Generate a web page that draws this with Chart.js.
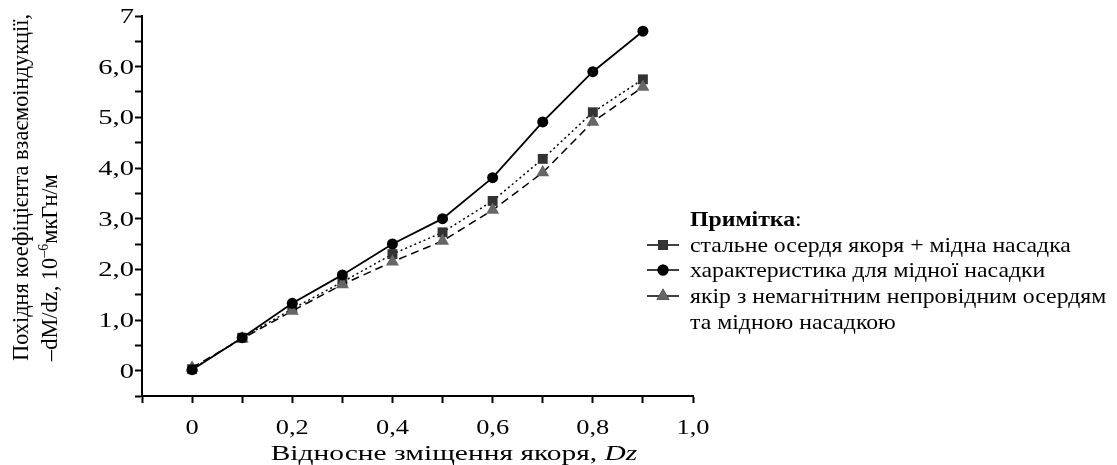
<!DOCTYPE html>
<html>
<head>
<meta charset="utf-8">
<script src="https://cdn.jsdelivr.net/npm/chart.js@4/dist/chart.umd.min.js"></script>
<style>
  body { margin: 0; background: #fff; }
  #wrap { width: 1117px; height: 465px; }
</style>
</head>
<body>
<div id="wrap"><canvas id="dzChart" width="1117" height="465"></canvas></div>
<script>
// ---- data ----
const dz = [0, 0.1, 0.2, 0.3, 0.4, 0.5, 0.6, 0.7, 0.8, 0.9];
const steelCopper = [0.03, 0.65, 1.22, 1.75, 2.30, 2.73, 3.35, 4.18, 5.10, 5.75];
const copperOnly  = [0.02, 0.65, 1.33, 1.89, 2.50, 3.00, 3.81, 4.91, 5.90, 6.70];
const nonMagnetic = [0.06, 0.63, 1.18, 1.70, 2.15, 2.56, 3.17, 3.91, 4.91, 5.60];

// tick values (labels only on the major ones)
const xTicks = [-0.1, 0, 0.1, 0.2, 0.3, 0.4, 0.5, 0.6, 0.7, 0.8, 0.9, 1.0];
const yTicks = [-0.5, 0, 0.5, 1, 1.5, 2, 2.5, 3, 3.5, 4, 4.5, 5, 5.5, 6, 6.5, 7];
const xTickLabels = { '0': '0', '0.2': '0,2', '0.4': '0,4', '0.6': '0,6', '0.8': '0,8', '1': '1,0' };
const yTickLabels = { '0': '0', '1': '1,0', '2': '2,0', '3': '3,0', '4': '4,0', '5': '5,0', '6': '6,0', '7': '7' };

const seriesLabels = [
    'стальне осердя якоря + мідна насадка',
    'характеристика для мідної насадки',
    'якір з немагнітним непровідним осердям'
];
const legendExtraLine = 'та мідною насадкою';
const legendTitle = 'Примітка';
const xTitle = 'Відносне зміщення якоря, ';
const xTitleItalic = 'Dz';
const yTitleLine1 = 'Похідня коефіцієнта взаємоіндукції,';
const yTitleLine2 = ['–dM/dz, 10', '–6', 'мкГн/м'];

const FONT = '"Liberation Serif", "Times New Roman", serif';

function toPoints(values) {
    return dz.map((x, i) => ({ x: x, y: values[i] }));
}

function keyOf(v) {
    return String(Math.round(v * 10) / 10);
}

// draw text squeezed/stretched horizontally, anchored at x
function stretchedText(ctx, text, x, y, sx, align) {
    const w = ctx.measureText(text).width * sx;
    let left = x;
    if (align === 'center') left = x - w / 2;
    if (align === 'right') left = x - w;
    ctx.save();
    ctx.translate(left, y);
    ctx.scale(sx, 1);
    ctx.textAlign = 'left';
    ctx.fillText(text, 0, 0);
    ctx.restore();
    return w;
}

// ============================================
// TICK LABELS, TITLES + LEGEND (drawn on the canvas)
// ============================================
const annotations = {
    id: 'annotations',
    afterDraw(chart) {
        const ctx = chart.ctx;
        const xs = chart.scales.x;
        const ys = chart.scales.y;
        ctx.save();
        ctx.fillStyle = '#000';
        ctx.textBaseline = 'alphabetic';
        ctx.font = '22px ' + FONT;

        // tick labels
        xs.ticks.forEach(t => {
            const lbl = xTickLabels[keyOf(t.value)];
            if (lbl) stretchedText(ctx, lbl, xs.getPixelForValue(t.value), 434, 1.2, 'center');
        });
        ys.ticks.forEach(t => {
            const lbl = yTickLabels[keyOf(t.value)];
            if (lbl) stretchedText(ctx, lbl, 134, ys.getPixelForValue(t.value) + 7, 1.3, 'right');
        });

        // x title
        ctx.font = '22px ' + FONT;
        const w1 = ctx.measureText(xTitle).width;
        ctx.font = 'italic 22px ' + FONT;
        const w2 = ctx.measureText(xTitleItalic).width;
        const sx = 1.34;
        let left = 454 - (w1 + w2) * sx / 2;
        ctx.font = '22px ' + FONT;
        stretchedText(ctx, xTitle, left, 460, sx, 'left');
        ctx.font = 'italic 22px ' + FONT;
        stretchedText(ctx, xTitleItalic, left + w1 * sx, 460, sx, 'left');

        // y title (rotated)
        ctx.save();
        ctx.translate(0, 361);
        ctx.rotate(-Math.PI / 2);
        ctx.font = '22.4px ' + FONT;
        ctx.fillText(yTitleLine1, 0, 28);
        let px = 0;
        ctx.fillText(yTitleLine2[0], px, 57);
        px += ctx.measureText(yTitleLine2[0]).width;
        ctx.font = '14px ' + FONT;
        ctx.fillText(yTitleLine2[1], px, 48);
        px += ctx.measureText(yTitleLine2[1]).width;
        ctx.font = '22.4px ' + FONT;
        ctx.fillText(yTitleLine2[2], px, 57);
        ctx.restore();

        // legend
        const lx = 1.08;
        ctx.font = 'bold 22px ' + FONT;
        const tw = stretchedText(ctx, legendTitle, 690, 226, lx, 'left');
        ctx.font = '22px ' + FONT;
        stretchedText(ctx, ':', 690 + tw, 226, lx, 'left');

        const rows = [245, 270, 296];
        chart.data.datasets.forEach((ds, i) => {
            const y = rows[i];
            ctx.strokeStyle = '#000';
            ctx.lineWidth = 1.5;
            ctx.setLineDash([]);
            ctx.beginPath();
            ctx.moveTo(647, y);
            ctx.lineTo(679, y);
            ctx.stroke();
            Chart.helpers.drawPoint(ctx, {
                pointStyle: ds.pointStyle,
                radius: ds.pointRadius,
                rotation: 0,
                borderWidth: 0
            }, 663, y);
            ctx.fillStyle = ds.pointBackgroundColor;
            ctx.fill();
            ctx.fillStyle = '#000';
            ctx.font = '22px ' + FONT;
            stretchedText(ctx, seriesLabels[i], 690, y + 7, lx, 'left');
        });
        stretchedText(ctx, legendExtraLine, 690, 329, lx, 'left');
        ctx.restore();
    }
};

const ctx = document.getElementById('dzChart');
const dzChart = new Chart(ctx.getContext('2d'), {
    type: 'line',
    data: {
        datasets: [
            {
                label: seriesLabels[0],
                data: toPoints(steelCopper),
                borderColor: '#000',
                borderWidth: 1.5,
                borderDash: [2, 3],
                pointStyle: 'rect',
                pointRadius: 7,
                pointBackgroundColor: '#333',
                pointBorderWidth: 0,
                order: 3
            },
            {
                label: seriesLabels[1],
                data: toPoints(copperOnly),
                borderColor: '#000',
                borderWidth: 1.8,
                pointStyle: 'circle',
                pointRadius: 5.5,
                pointBackgroundColor: '#000',
                pointBorderWidth: 0,
                order: 1
            },
            {
                label: seriesLabels[2],
                data: toPoints(nonMagnetic),
                borderColor: '#000',
                borderWidth: 1.5,
                borderDash: [8, 5],
                pointStyle: 'triangle',
                pointRadius: 7.5,
                pointBackgroundColor: '#666',
                pointBorderWidth: 0,
                order: 2
            }
        ]
    },
    options: {
        responsive: false,
        animation: false,
        layout: { padding: { top: 16, right: 424, left: 0, bottom: 0 } },
        plugins: {
            legend: { display: false },
            tooltip: { enabled: false }
        },
        scales: {
            x: {
                type: 'linear',
                min: -0.1,
                max: 1.0,
                afterFit(scale) { scale.height = 69; },
                afterBuildTicks(scale) {
                    scale.ticks = xTicks.map(v => ({ value: v }));
                },
                border: { color: '#000', width: 2 },
                grid: { drawOnChartArea: false, tickLength: 7, tickWidth: 2, tickColor: '#000' },
                ticks: { display: false, autoSkip: false }
            },
            y: {
                min: -0.5,
                max: 7,
                afterFit(scale) { scale.width = 142; },
                afterBuildTicks(scale) {
                    scale.ticks = yTicks.map(v => ({ value: v }));
                },
                border: { color: '#000', width: 2 },
                grid: { drawOnChartArea: false, tickLength: 7, tickWidth: 2, tickColor: '#000' },
                ticks: { display: false, autoSkip: false }
            }
        }
    },
    plugins: [annotations]
});
</script>
</body>
</html>
